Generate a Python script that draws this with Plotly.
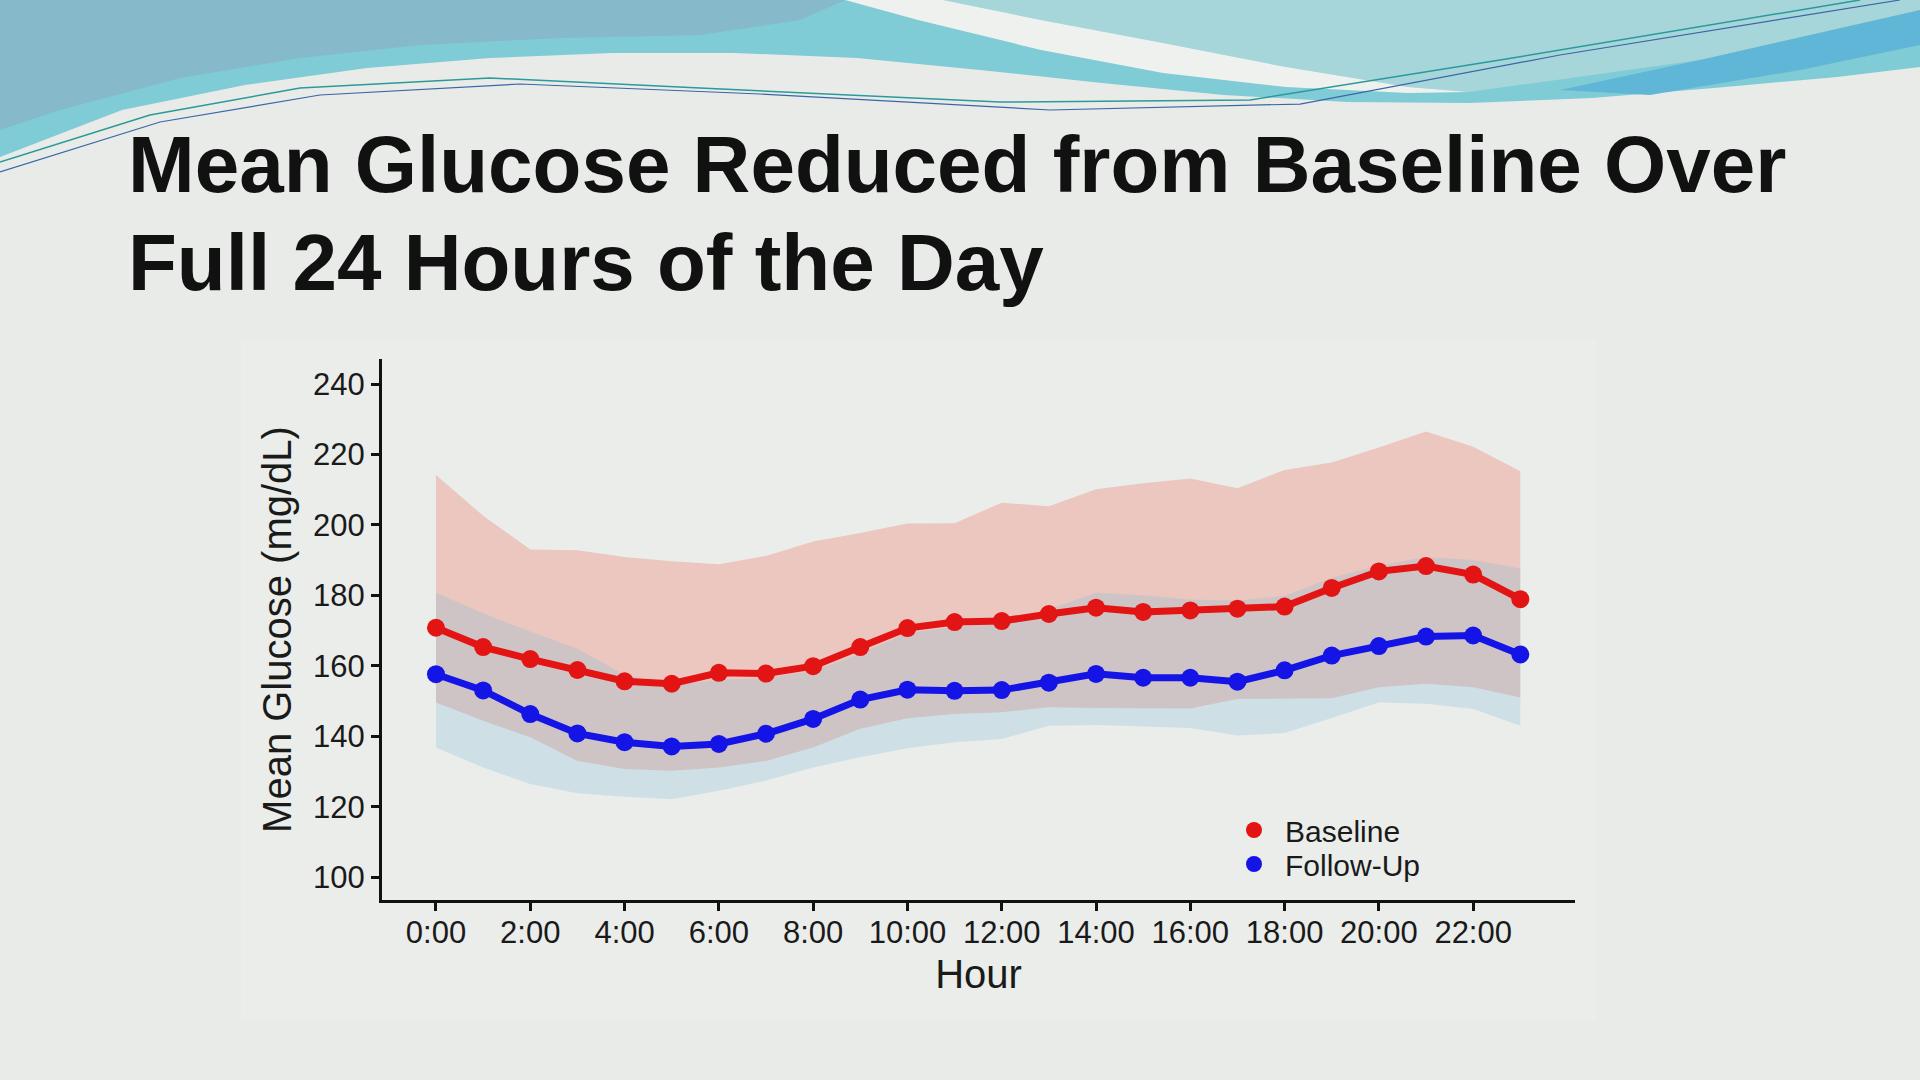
import plotly.graph_objects as go

# hourly values
hours = list(range(24))
hour_ticks = [0, 2, 4, 6, 8, 10, 12, 14, 16, 18, 20, 22]
hour_labels = ["0:00", "2:00", "4:00", "6:00", "8:00", "10:00", "12:00",
               "14:00", "16:00", "18:00", "20:00", "22:00"]

baseline_mean = [170.8, 165.3, 161.9, 158.8, 155.6, 154.9, 158.0, 157.8, 159.9, 165.3,
                 170.7, 172.4, 172.7, 174.7, 176.5, 175.3, 175.7, 176.2, 176.8, 182.1,
                 186.8, 188.3, 185.9, 178.9]
baseline_upper = [214.2, 202.6, 193.0, 192.8, 190.9, 189.7, 188.8, 191.2, 195.3, 197.7,
                  200.4, 200.5, 206.3, 205.3, 210.1, 211.8, 213.2, 210.4, 215.6, 217.7,
                  222.0, 226.5, 222.2, 215.2]
baseline_lower = [149.6, 144.4, 139.7, 133.0, 130.7, 130.2, 131.1, 133.0, 136.8, 142.1,
                  145.1, 146.3, 146.8, 148.2, 148.0, 148.0, 147.9, 150.6, 150.6, 150.8,
                  153.9, 154.9, 153.9, 151.0]

followup_mean = [157.6, 153.0, 146.3, 140.8, 138.3, 137.1, 137.8, 140.7, 144.9, 150.4,
                 153.2, 152.9, 153.1, 155.2, 157.7, 156.6, 156.6, 155.5, 158.7, 162.9,
                 165.6, 168.3, 168.6, 163.2]
followup_upper = [180.7, 174.9, 169.7, 164.8, 157.5, 154.5, 156.0, 156.5, 158.5, 163.4,
                  169.3, 171.0, 172.0, 176.0, 180.7, 180.0, 178.8, 178.5, 179.8, 185.0,
                  188.5, 190.9, 190.0, 187.6]
followup_lower = [136.8, 131.1, 126.4, 123.8, 122.8, 122.1, 124.5, 127.4, 131.1, 134.0,
                  136.6, 138.3, 139.2, 143.0, 143.2, 142.8, 142.3, 140.2, 140.9, 145.2,
                  149.6, 149.2, 147.7, 143.0]

W, H = 1920, 1080
ML, MR, MT, MB = 382, 345, 359, 180
PW, PH = W - ML - MR, H - MT - MB
BG = "#e8ebe7"
FONT = "Liberation Sans, Arial, sans-serif"


def px(x):
    return (x - ML) / PW


def py(y):
    return 1 - (y - MT) / PH


def path(points, close=True):
    s = "M " + " L ".join("%.4f,%.4f" % (px(x), py(y)) for x, y in points)
    return s + (" Z" if close else "")


fig = go.Figure()

# shaded ranges
fig.add_trace(go.Scatter(x=hours, y=baseline_upper, mode="lines", line=dict(width=0),
                         showlegend=False, hoverinfo="skip"))
fig.add_trace(go.Scatter(x=hours, y=baseline_lower, mode="lines", line=dict(width=0),
                         fill="tonexty", fillcolor="rgba(240,30,0,0.18)",
                         showlegend=False, hoverinfo="skip"))
fig.add_trace(go.Scatter(x=hours, y=followup_upper, mode="lines", line=dict(width=0),
                         showlegend=False, hoverinfo="skip"))
fig.add_trace(go.Scatter(x=hours, y=followup_lower, mode="lines", line=dict(width=0),
                         fill="tonexty", fillcolor="rgba(125,190,216,0.26)",
                         showlegend=False, hoverinfo="skip"))

# mean lines (legend shows dots only, so markers go in their own traces)
series = [("Baseline", baseline_mean, "#e31414", "legend"),
          ("Follow-Up", followup_mean, "#1414e6", "legend2")]
for name, vals, col, leg in series:
    fig.add_trace(go.Scatter(x=hours, y=vals, mode="lines", line=dict(color=col, width=7),
                             showlegend=False, name=name))
for name, vals, col, leg in series:
    fig.add_trace(go.Scatter(x=hours, y=vals, mode="markers", name=name, legend=leg,
                             marker=dict(color=col, size=18)))

# slide decoration
shapes = [
    dict(type="rect", x0=px(241), x1=px(1596), y0=py(340), y1=py(1020),
         fillcolor="#ebedea", line=dict(width=0)),
    dict(type="path", path=path([(0, 0), (1920, 0), (1920, 67), (1837, 77), (1714, 88),
                                 (1592, 98), (1469, 103), (1347, 102), (1224, 95),
                                 (1102, 83), (980, 70), (857, 58), (735, 53), (612, 53),
                                 (490, 58), (367, 68), (245, 85), (122, 110), (0, 157)]),
         fillcolor="#7fcbd6", line=dict(width=0)),
    dict(type="path", path=path([(0, 0), (845, 0), (800, 20), (700, 35), (560, 38),
                                 (420, 45), (300, 58), (180, 78), (60, 110), (0, 130)]),
         fillcolor="#86b9c9", line=dict(width=0)),
    dict(type="path", path=path([(943, 0), (1920, 0), (1920, 20), (1700, 60), (1469, 92),
                                 (1408, 87), (1286, 67), (1163, 43), (1041, 20)]),
         fillcolor="#a6d6da", line=dict(width=0)),
    dict(type="path", path=path([(1560, 90), (1700, 60), (1920, 10), (1920, 45),
                                 (1800, 70), (1650, 95)]),
         fillcolor="#5fb6d6", line=dict(width=0)),
    dict(type="path", path=path([(845, 0), (943, 0), (1041, 20), (1163, 43), (1286, 67),
                                 (1408, 87), (1469, 92), (1408, 93), (1286, 87),
                                 (1163, 73), (1041, 50), (918, 20)]),
         fillcolor="#eef1ee", line=dict(width=0)),
    dict(type="path", path=path([(0, 162), (150, 115), (300, 88), (490, 78), (700, 88),
                                 (1000, 102), (1250, 100), (1500, 60), (1860, 0)], close=False),
         line=dict(color="#2a9a9a", width=1.5)),
    dict(type="path", path=path([(0, 172), (160, 122), (320, 95), (520, 84), (760, 94),
                                 (1050, 110), (1300, 104), (1560, 55), (1900, 0)], close=False),
         line=dict(color="#3a66a8", width=1.2)),
]
for s in shapes:
    s.update(xref="paper", yref="paper", layer="below")

legend_style = dict(xanchor="left", yanchor="middle", bgcolor="rgba(0,0,0,0)",
                    font=dict(size=30), itemwidth=52)
fig.update_layout(
    width=W, height=H, autosize=False,
    margin=dict(l=ML, r=MR, t=MT, b=MB),
    paper_bgcolor=BG, plot_bgcolor="rgba(0,0,0,0)",
    font=dict(family=FONT, color="#1a1a1a", size=31),
    shapes=shapes,
    showlegend=True,
    legend=dict(x=px(1223), y=py(830), **legend_style),
    legend2=dict(x=px(1223), y=py(864), **legend_style),
    annotations=[
        dict(text="<b>Mean Glucose Reduced from Baseline Over</b>", xref="paper", yref="paper",
             x=px(126), y=py(118), xanchor="left", yanchor="top", showarrow=False,
             font=dict(family=FONT, size=80, color="#111111")),
        dict(text="<b>Full 24 Hours of the Day</b>", xref="paper", yref="paper",
             x=px(126), y=py(216), xanchor="left", yanchor="top", showarrow=False,
             font=dict(family=FONT, size=80, color="#111111")),
    ],
)
fig.update_xaxes(range=[-1.145, 24.16], tickvals=hour_ticks, ticktext=hour_labels,
                 showgrid=False, zeroline=False, showline=True, linecolor="#111111",
                 linewidth=3, ticks="outside", ticklen=8, tickwidth=2.5, tickcolor="#111111",
                 ticklabelstandoff=-5,
                 title=dict(text="Hour", font=dict(size=40), standoff=11))
fig.update_yaxes(range=[93.5, 247.1], tickvals=[100, 120, 140, 160, 180, 200, 220, 240],
                 showgrid=False, zeroline=False, showline=True, linecolor="#111111",
                 linewidth=3, ticks="outside", ticklen=8, tickwidth=2.5, tickcolor="#111111",
                 title=dict(text="Mean Glucose (mg/dL)", font=dict(size=40), standoff=10))

fig.write_html("out.html", config={"displayModeBar": False},
               post_script="document.body.style.margin='0';")
